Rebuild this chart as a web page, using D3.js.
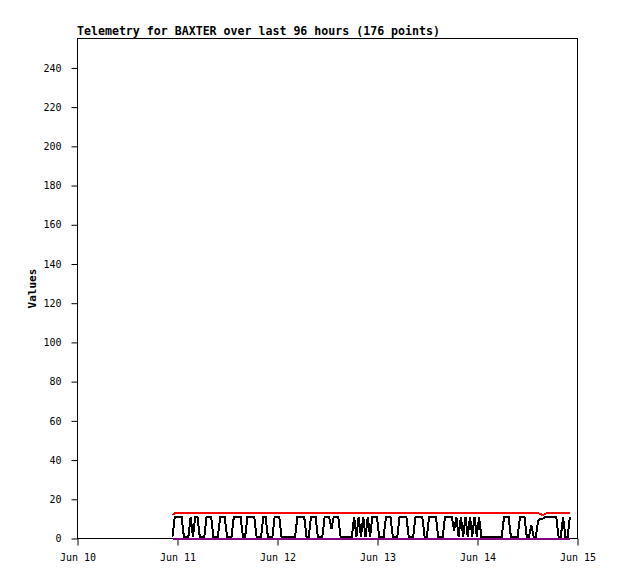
<!DOCTYPE html>
<html><head><meta charset="utf-8">
<script src="https://cdn.jsdelivr.net/npm/d3@7"></script>
<style>
html,body{margin:0;padding:0;background:#fff;}
svg{display:block;}
</style></head>
<body>
<script>
// ---- data ----
const title = "Telemetry for BAXTER over last 96 hours (176 points)";
const yLabel = "Values";
const xTickLabels = ["Jun 10","Jun 11","Jun 12","Jun 13","Jun 14","Jun 15"];
const yTicks = [0,20,40,60,80,100,120,140,160,180,200,220,240];
const startTime = "2024-06-10T22:48:00Z";
const stepMinutes = 32.7;

const blackSeries = [
 1,11,11,11,11,1,1,1,11,1,
 11,11,1,1,1,11,11,11,1,1,
 1,11,11,11,1,1,1,11,11,11,
 11,1,1,11,11,11,11,1,1,1,
 11,11,1,1,1,11,11,11,1,1,
 1,1,1,1,1,11,11,11,11,1,
 1,11,11,11,1,1,1,11,11,11,
 5,11,11,11,1,1,1,1,1,1,
 11,1,11,1,11,1,11,1,11,11,
 11,1,1,1,11,11,11,1,1,1,
 11,11,11,11,1,1,1,11,11,11,
 11,1,1,11,11,11,11,1,1,1,
 11,11,11,11,4,11,1,11,1,11,
 1,11,1,11,1,11,1,1,1,1,
 1,1,1,1,1,1,11,11,11,1,
 1,1,1,11,11,11,1,1,7,1,
 1,9,10,10,11,11,11,11,11,11,
 1,1,11,1,1,11
];
const redSeries = [
 12,13,13,13,13,13,13,13,13,13,
 13,13,13,13,13,13,13,13,13,13,
 13,13,13,13,13,13,13,13,13,13,
 13,13,13,13,13,13,13,13,13,13,
 13,13,13,13,13,13,13,13,13,13,
 13,13,13,13,13,13,13,13,13,13,
 13,13,13,13,13,13,13,13,13,13,
 13,13,13,13,13,13,13,13,13,13,
 13,13,13,13,13,13,13,13,13,13,
 13,13,13,13,13,13,13,13,13,13,
 13,13,13,13,13,13,13,13,13,13,
 13,13,13,13,13,13,13,13,13,13,
 13,13,13,13,13,13,13,13,13,13,
 13,13,13,13,13,13,13,13,13,13,
 13,13,13,13,13,13,13,13,13,13,
 13,13,13,13,13,13,13,13,13,13,
 13,13,12.5,11.8,12.5,13,13,13,13,13,
 13,13,13,13,13,13
];
const purpleSeries = [
 0,0,0,0,0,0,0,0,0,0, 0,0,0,0,0,0,0,0,0,0,
 0,0,0,0,0,0,0,0,0,0, 0,0,0,0,0,0,0,0,0,0,
 0,0,0,0,0,0,0,0,0,0, 0,0,0,0,0,0,0,0,0,0,
 0,0,0,0,0,0,0,0,0,0, 0,0,0,0,0,0,0,0,0,0,
 0,0,0,0,0,0,0,0,0,0, 0,0,0,0,0,0,0,0,0,0,
 0,0,0,0,0,0,0,0,0,0, 0,0,0,0,0,0,0,0,0,0,
 0,0,0,0,0,0,0,0,0,0, 0,0,0,0,0,0,0,0,0,0,
 0,0,0,0,0,0,0,0,0,0, 0,0,0,0,0,0,0,0,0,0,
 0,0,0,0,0,0,0,0,0,0, 0,0,0,0,0,0
];

// ---- layout ----
const W = 618, H = 579;
const m = {left:77.5, top:38.5, right:40.5, bottom:40.5};
const pw = W - m.left - m.right, ph = H - m.top - m.bottom;

const t0 = new Date(startTime).getTime();
const times = blackSeries.map((_, i) => new Date(t0 + i * stepMinutes * 60000));

const x = d3.scaleUtc()
  .domain([new Date("2024-06-10T00:00:00Z"), new Date("2024-06-15T00:00:00Z")])
  .range([0, pw]);
const y = d3.scaleLinear().domain([0, 255]).range([ph, 0]);

const svg = d3.select("body").append("svg").attr("width", W).attr("height", H);
const g = svg.append("g").attr("transform", `translate(${m.left},${m.top})`);

const mono = "'DejaVu Sans Mono', 'Liberation Mono', monospace";

// frame
g.append("rect").attr("x",0).attr("y",0).attr("width",pw).attr("height",ph)
  .attr("fill","none").attr("stroke","#000").attr("stroke-width",1);

// axes
const yAxis = d3.axisLeft(y).tickValues(yTicks).tickSize(6).tickPadding(10);
const ya = g.append("g").call(yAxis);
ya.select(".domain").remove();
ya.selectAll("text").attr("font-family", mono).attr("font-size", 10).attr("fill","#000");

const xTickDates = xTickLabels.map((_, i) => d3.utcDay.offset(new Date("2024-06-10T00:00:00Z"), i));
const xAxis = d3.axisBottom(x).tickValues(xTickDates).tickSize(7).tickPadding(8)
  .tickFormat((d, i) => xTickLabels[i]);
const xa = g.append("g").attr("transform", `translate(0,${ph})`).call(xAxis);
xa.select(".domain").remove();
xa.selectAll("text").attr("font-family", mono).attr("font-size", 10).attr("fill","#000");

// lines
const line = d3.line().x((d, i) => x(times[i])).y(d => y(d));
g.append("path").datum(redSeries).attr("d", line)
  .attr("fill","none").attr("stroke","#ff0000").attr("stroke-width",2)
  .attr("shape-rendering","crispEdges");
g.append("path").datum(purpleSeries).attr("d", line)
  .attr("fill","none").attr("stroke","#800080").attr("stroke-width",2)
  .attr("shape-rendering","crispEdges");
g.append("path").datum(blackSeries).attr("d", line)
  .attr("fill","none").attr("stroke","#000").attr("stroke-width",2)
  .attr("stroke-linejoin","miter").attr("shape-rendering","crispEdges");

// title
svg.append("text").attr("x", 77).attr("y", 35)
  .attr("font-family", mono).attr("font-size", 11.6).attr("font-weight","bold")
  .text(title);

// y label
svg.append("text").attr("transform", `translate(36,${m.top + ph/2}) rotate(-90)`)
  .attr("text-anchor","middle")
  .attr("font-family", mono).attr("font-size", 11).attr("font-weight","bold")
  .text(yLabel);
</script>
</body></html>
